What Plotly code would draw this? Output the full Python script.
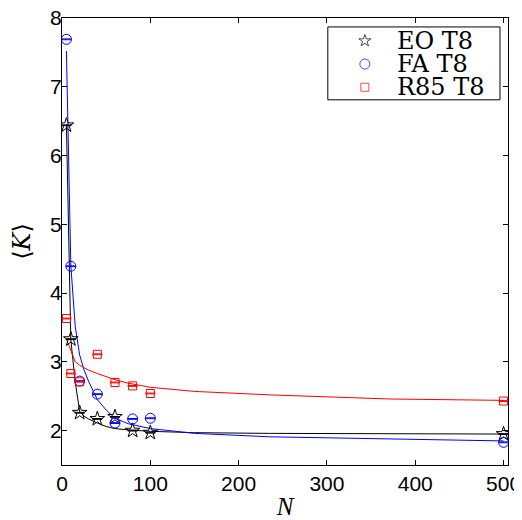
import plotly.graph_objects as go

# Measured data points
N_pts = [5, 10, 20, 40, 60, 80, 100, 500]
eo_vals = [6.44, 3.33, 2.26, 2.17, 2.20, 2.00, 1.97, 1.95]
fa_vals = [7.69, 4.39, 2.72, 2.53, 2.11, 2.17, 2.18, 1.83]
r85_vals = [3.63, 2.83, 2.71, 3.11, 2.70, 2.65, 2.54, 2.43]
err_vals = [0.006] * 8

# Fitted curves
N_fit = [5, 10, 15, 20, 25, 30, 40, 50, 60, 75, 100, 150, 235, 370, 500]
eo_fit = [6.45, 3.32, 2.70, 2.28, 2.21, 2.17, 2.11, 2.06, 2.03, 2.01, 1.99, 1.97, 1.96, 1.95, 1.95]
fa_fit = [7.52, 4.40, 3.51, 3.10, 2.88, 2.72, 2.45, 2.30, 2.18, 2.10, 2.03, 1.96, 1.91, 1.875, 1.85]
r85_fit = [3.33, 3.15, 3.00, 2.95, 2.91, 2.88, 2.83, 2.78, 2.74, 2.69, 2.63, 2.57, 2.52, 2.46, 2.44]

x_ticks = [0, 100, 200, 300, 400, 500]
y_ticks = [2, 3, 4, 5, 6, 7, 8]
legend_names = ["EO T8", "FA T8", "R85 T8"]

colors = ["black", "blue", "red"]
symbols = ["star-open", "circle-open", "square-open"]
sizes = [11, 10, 8]
vals_list = [eo_vals, fa_vals, r85_vals]
fits_list = [eo_fit, fa_fit, r85_fit]

fig = go.Figure()
for fit, col in zip(fits_list, colors):
    fig.add_trace(go.Scatter(x=N_fit, y=fit, mode="lines", line=dict(color=col, width=1),
                             showlegend=False, hoverinfo="skip"))
for name, vals, col, sym, sz in zip(legend_names, vals_list, colors, symbols, sizes):
    fig.add_trace(go.Scatter(x=N_pts, y=vals, mode="markers", name=name, showlegend=False,
                             marker=dict(symbol=sym, size=sz, color=col, line=dict(color=col, width=1)),
                             error_y=dict(type="data", array=err_vals, color=col, thickness=1, width=5)))

# Legend box (drawn manually to match the compact LaTeX-style legend)
leg_x0, leg_x1, leg_y0, leg_y1 = 0.596, 0.982, 0.817, 0.98
row_y = [0.949, 0.897, 0.845]
sym_x = 0.679
txt_x = 0.746
fig.add_shape(type="rect", xref="paper", yref="paper", x0=leg_x0, x1=leg_x1, y0=leg_y0, y1=leg_y1,
              line=dict(color="black", width=1), fillcolor="white", layer="below")
fig.add_trace(go.Scatter(x=[sym_x] * 3, y=row_y, mode="markers", xaxis="x2", yaxis="y2",
                         marker=dict(symbol=symbols, size=[9, 10, 8], color=colors,
                                     line=dict(color=colors, width=1)),
                         showlegend=False, hoverinfo="skip"))
for name, ry in zip(legend_names, row_y):
    fig.add_annotation(x=txt_x, y=ry, xref="paper", yref="paper", text=name, showarrow=False,
                       xanchor="left", yanchor="middle",
                       font=dict(family="DejaVu Serif", size=24, color="black"))

axis_common = dict(showline=True, linecolor="black", linewidth=1, mirror="ticks",
                   ticks="inside", ticklen=5, tickcolor="black", showgrid=False, zeroline=False,
                   automargin=False, ticklabeloverflow="allow",
                   tickfont=dict(family="Liberation Sans, Arial", size=21, color="black"))

# The page body has an 8px default margin, so the figure is sized to fit the 522x520 window.
fig.update_layout(
    width=514, height=512,
    margin=dict(l=54, r=14, t=10, b=55),
    plot_bgcolor="white", paper_bgcolor="white",
    showlegend=False,
    xaxis=dict(range=[0, 505], tickvals=x_ticks, ticktext=[str(v) for v in x_ticks],
               title=dict(text="<i>N</i>", font=dict(family="Liberation Serif", size=25, color="black"), standoff=4),
               **axis_common),
    yaxis=dict(range=[1.5, 8], tickvals=y_ticks, ticktext=[str(v) for v in y_ticks],
               ticklabelstandoff=-5,
               title=dict(text="⟨<i>K</i>⟩", font=dict(family="DejaVu Serif", size=24, color="black"), standoff=14),
               **axis_common),
    xaxis2=dict(range=[0, 1], overlaying="x", visible=False, fixedrange=True),
    yaxis2=dict(range=[0, 1], overlaying="y", visible=False, fixedrange=True),
)

fig.write_html("out.html")
